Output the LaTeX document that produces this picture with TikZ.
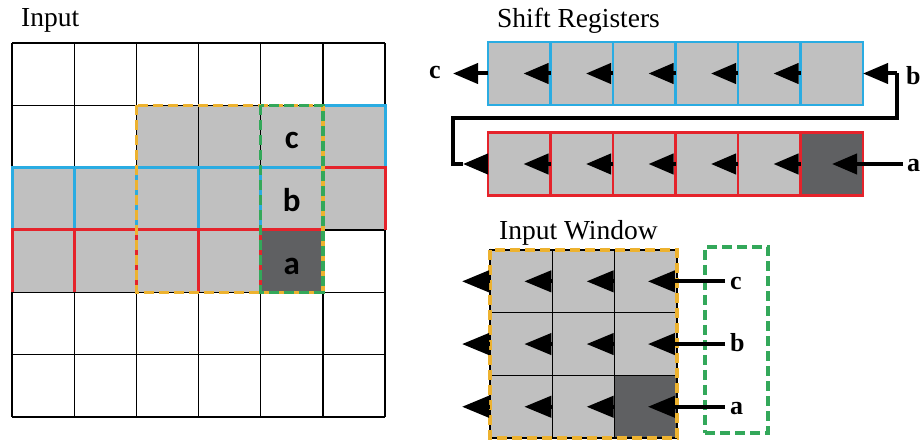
\documentclass[tikz,border=0pt]{standalone}
\usepackage{fontspec}
\setmainfont{Liberation Serif}
\newfontfamily\calfont{Carlito}
\usetikzlibrary{arrows.meta}
\definecolor{lg}{HTML}{C0C0C0}
\definecolor{dg}{HTML}{5F6062}
\definecolor{bl}{HTML}{2AACE2}
\definecolor{rd}{HTML}{E5232B}
\definecolor{yl}{HTML}{EDB22F}
\definecolor{gn}{HTML}{33A85A}
\tikzset{
  title/.style={anchor=base west, inner sep=0pt, font=\fontsize{27.5}{30}\selectfont},
  glab/.style={anchor=base, inner sep=0pt, font=\calfont\bfseries\fontsize{33}{36}\selectfont},
  rlab/.style={anchor=base west, inner sep=0pt, font=\bfseries\fontsize{26}{28}\selectfont},
  regcell/.style={minimum width=62.5pt, minimum height=63pt, inner sep=0pt, outer sep=0pt, fill=lg, line width=2.8pt},
  wcell/.style={minimum width=62.3pt, minimum height=62.7pt, inner sep=0pt, outer sep=0pt, fill=lg, draw=black, line width=1.2pt},
  arr/.style={line width=4pt, -{Triangle[length=25pt,width=20pt]}},
  arrw/.style={line width=4pt, -{Triangle[length=27pt,width=21pt]}},
  wire/.style={line width=4pt, line join=miter},
  ydash/.style={draw=yl, line width=3.5pt, dash pattern=on 10pt off 5pt},
  gdash/.style={draw=gn, line width=3.5pt, dash pattern=on 10pt off 5pt},
  bedge/.style={draw=bl, line width=3pt},
  redge/.style={draw=rd, line width=3pt},
}
\begin{document}
\begin{tikzpicture}[x=1pt,y=-1pt]
\useasboundingbox (0,0) rectangle (922,443);
\fill[white] (0,0) rectangle (922,443);

% ---------- Input grid ----------
\node[title] (tin) at (21,27) {Input};
\begin{scope}[shift={(12,43)}, x=62.17pt, y=-62.33pt]
  \fill[lg] (2,1) rectangle (6,2);
  \fill[lg] (0,2) rectangle (6,3);
  \fill[lg] (0,3) rectangle (5,4);
  \fill[dg] (4,3) rectangle (5,4);
  \foreach \k in {0,...,6} {
    \draw[line width=1.3pt] (\k,0) -- (\k,6);
    \draw[line width=1.3pt] (0,\k) -- (6,\k);
  }
  \foreach \c/\r in {0/2,1/2,2/2,3/2,4/2,5/1}
    \draw[bedge] (\c,\r+1) -- (\c,\r) -- (\c+1,\r) -- (\c+1,\r+1);
  \foreach \c/\r in {0/3,1/3,2/3,3/3,4/3,5/2}
    \draw[redge] (\c,\r+1) -- (\c,\r) -- (\c+1,\r) -- (\c+1,\r+1);
  \draw[ydash] (2,1) rectangle (5,4);
  \draw[gdash] (4,1) rectangle (5,4);
  \node[glab] (gc) at (4.5,1.685) {c};
  \node[glab] (gb) at (4.5,2.711) {b};
  \node[glab] (ga) at (4.5,3.72) {a};
\end{scope}

% ---------- Shift registers ----------
\node[title] (tsr) at (497,28) {Shift Registers};
\foreach \i in {0,...,5}
  \node[regcell, draw=bl] (b\i) at (519.25+62.5*\i, 73.5) {};
\foreach \i in {0,...,4}
  \node[regcell, draw=rd] (r\i) at (519.25+62.5*\i, 164) {};
\node[regcell, draw=rd, fill=dg] (r5) at (831.75,164) {};
\foreach \i in {1,...,5} {
  \draw[arr] (b\i.west) -- ++(-27,0);
  \draw[arr] (r\i.west) -- ++(-27,0);
}
% output c
\coordinate (ctip) at (453,73.5);
\draw[arr] (b0.west) -- (ctip);
\node[rlab] (lc) at (429,79) {c};
% feedback red -> blue (b)
\coordinate (rtip) at (463,164);
\coordinate (w1) at (453,164);
\coordinate (w2) at (453,118);
\coordinate (w3) at (897,118);
\coordinate (w4) at (897,73.5);
\draw[arr] (r0.west) -- (rtip);
\draw[wire] (rtip) -- (w1) -- (w2) -- (w3) -- (w4);
\draw[arr] (w4) -- (b5.east);
\node[rlab] (lb) at (906,85) {b};
% input a
\coordinate (astart) at (903,164);
\coordinate (atip) at (832,164);
\draw[arr] (astart) -- (atip);
\node[rlab] (la) at (907,172) {a};

% ---------- Input window ----------
\node[title] (tiw) at (499,240) {Input Window};
\node[gdash, minimum width=63pt, minimum height=186pt, inner sep=0pt] (gwin) at (736.5,340) {};
\foreach \r/\c in {0/0,0/1,0/2,1/0,1/1,1/2,2/0,2/1}
  \node[wcell] (w\r\c) at (521.15+62.3*\c, 281.35+62.7*\r) {};
\node[wcell, fill=dg] (w22) at (645.75,406.75) {};
\draw[ydash] (w00.north west) rectangle (w22.south east);
\foreach \r in {0,1,2}
  \foreach \c in {0,1,2}
    \draw[arrw] (w\r\c.west) -- ++(-28,0);
\node[rlab] (wc) at (730,290) {c};
\node[rlab] (wb) at (730,352) {b};
\node[rlab] (wa) at (730,415) {a};
\coordinate (wcs) at (725,281.35);
\coordinate (wbs) at (725,344.05);
\coordinate (was) at (725,406.75);
\draw[arrw] (wcs) -- ([xshift=-29pt]w02.east);
\draw[arrw] (wbs) -- ([xshift=-29pt]w12.east);
\draw[arrw] (was) -- ([xshift=-29pt]w22.east);
\end{tikzpicture}
\end{document}
